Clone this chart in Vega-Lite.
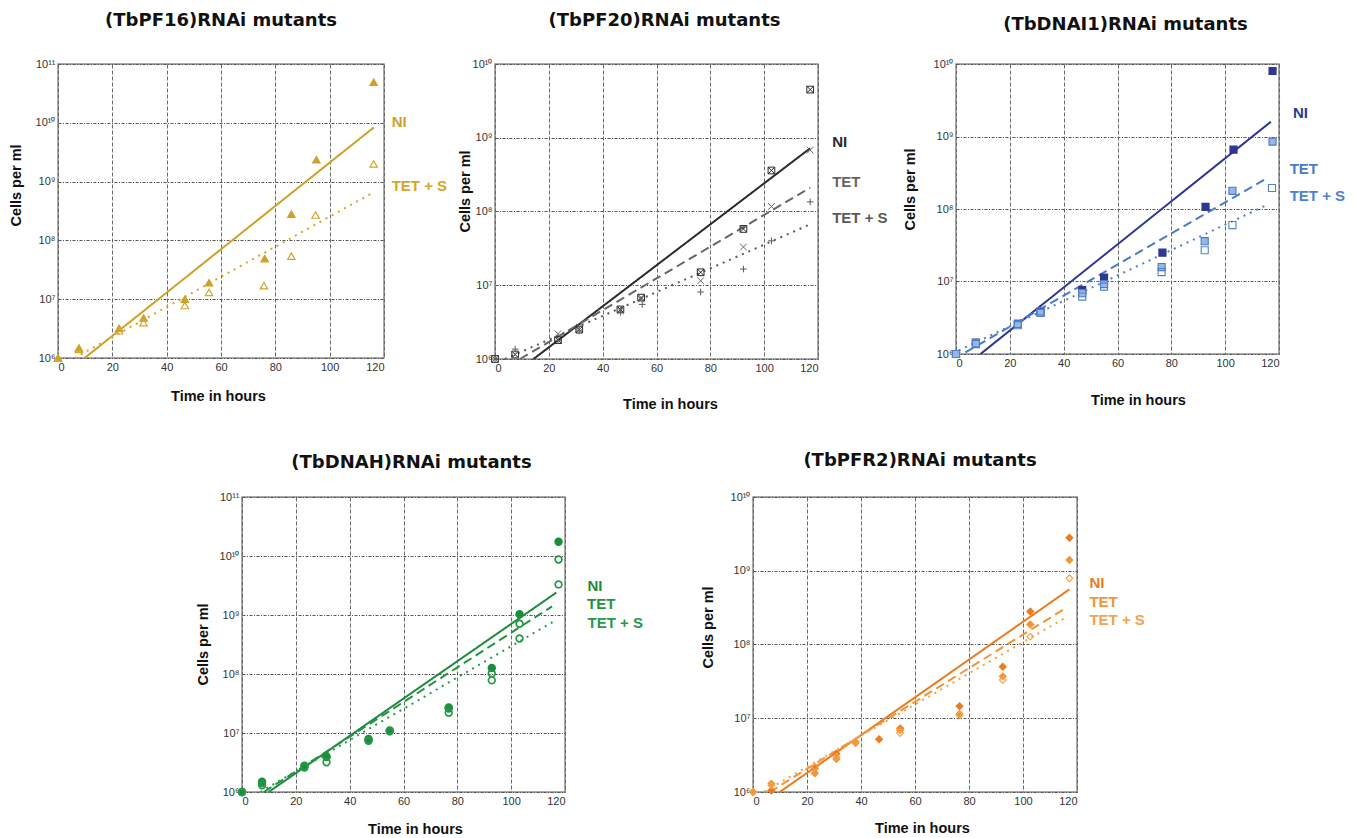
{
  "$schema": "https://vega.github.io/schema/vega-lite/v6.json",
  "background": "white",
  "padding": {"left": 7, "top": 10, "right": 0, "bottom": 0},
  "spacing": 39,
  "resolve": {"scale": {"x": "independent", "y": "independent", "color": "independent", "fill": "independent", "shape": "independent", "strokeDash": "independent"}},
  "config": {
    "view": {"stroke": "#8c8c8c", "strokeWidth": 1.5},
    "axis": {"grid": true, "gridColor": "#6a6a6a", "gridDash": [4, 2], "gridWidth": 1, "domain": false, "ticks": false, "labelFont": "Liberation Sans", "labelFontSize": 11, "labelColor": "#333", "labelPadding": 3, "titleFont": "Liberation Sans", "titleFontSize": 14.5, "titleFontWeight": "bold", "titleColor": "#111"},
    "axisY": {"gridDash": [3, 1.5, 1, 1.5], "gridColor": "#555"},
    "title": {"font": "DejaVu Sans", "fontSize": 18, "fontWeight": "bold", "color": "#111", "anchor": "middle", "frame": "group", "baseline": "alphabetic"},
    "text": {"font": "Liberation Sans", "fontSize": 15, "fontWeight": "bold"}
  },
  "datasets": {
    "pts": [
      {"p": "PF16", "s": "NI", "t": 0, "c": 1e6}, {"p": "PF16", "s": "NI", "t": 7.7, "c": 1.48e6}, {"p": "PF16", "s": "NI", "t": 22.5, "c": 3.2e6}, {"p": "PF16", "s": "NI", "t": 31.5, "c": 4.8e6}, {"p": "PF16", "s": "NI", "t": 46.7, "c": 1.0e7}, {"p": "PF16", "s": "NI", "t": 55.6, "c": 1.9e7}, {"p": "PF16", "s": "NI", "t": 76.1, "c": 4.9e7}, {"p": "PF16", "s": "NI", "t": 85.9, "c": 2.8e8}, {"p": "PF16", "s": "NI", "t": 95.1, "c": 2.35e9}, {"p": "PF16", "s": "NI", "t": 116.2, "c": 4.9e10},
      {"p": "PF16", "s": "TET + S", "t": 0, "c": 1e6}, {"p": "PF16", "s": "TET + S", "t": 7.7, "c": 1.4e6}, {"p": "PF16", "s": "TET + S", "t": 22.5, "c": 2.9e6}, {"p": "PF16", "s": "TET + S", "t": 31.5, "c": 4.0e6}, {"p": "PF16", "s": "TET + S", "t": 46.7, "c": 7.8e6}, {"p": "PF16", "s": "TET + S", "t": 55.6, "c": 1.3e7}, {"p": "PF16", "s": "TET + S", "t": 75.8, "c": 1.7e7}, {"p": "PF16", "s": "TET + S", "t": 85.9, "c": 5.4e7}, {"p": "PF16", "s": "TET + S", "t": 94.8, "c": 2.7e8}, {"p": "PF16", "s": "TET + S", "t": 116.2, "c": 2.0e9},

      {"p": "PF20", "s": "NI", "t": 0, "c": 1e6}, {"p": "PF20", "s": "NI", "t": 7.5, "c": 1.15e6}, {"p": "PF20", "s": "NI", "t": 23.4, "c": 1.8e6}, {"p": "PF20", "s": "NI", "t": 31.3, "c": 2.5e6}, {"p": "PF20", "s": "NI", "t": 46.6, "c": 4.7e6}, {"p": "PF20", "s": "NI", "t": 54.3, "c": 6.8e6}, {"p": "PF20", "s": "NI", "t": 76.4, "c": 1.5e7}, {"p": "PF20", "s": "NI", "t": 92.3, "c": 5.8e7}, {"p": "PF20", "s": "NI", "t": 102.7, "c": 3.6e8}, {"p": "PF20", "s": "NI", "t": 117.1, "c": 4.5e9},
      {"p": "PF20", "s": "TET", "t": 0, "c": 1e6}, {"p": "PF20", "s": "TET", "t": 7.5, "c": 1.15e6}, {"p": "PF20", "s": "TET", "t": 23.4, "c": 2.2e6}, {"p": "PF20", "s": "TET", "t": 31.3, "c": 2.7e6}, {"p": "PF20", "s": "TET", "t": 46.6, "c": 4.5e6}, {"p": "PF20", "s": "TET", "t": 54.3, "c": 6.5e6}, {"p": "PF20", "s": "TET", "t": 76.4, "c": 1.15e7}, {"p": "PF20", "s": "TET", "t": 92.3, "c": 3.3e7}, {"p": "PF20", "s": "TET", "t": 102.7, "c": 1.17e8}, {"p": "PF20", "s": "TET", "t": 117.1, "c": 6.8e8},
      {"p": "PF20", "s": "TET + S", "t": 0, "c": 1e6}, {"p": "PF20", "s": "TET + S", "t": 7.5, "c": 1.36e6}, {"p": "PF20", "s": "TET + S", "t": 23.4, "c": 1.77e6}, {"p": "PF20", "s": "TET + S", "t": 31.3, "c": 2.4e6}, {"p": "PF20", "s": "TET + S", "t": 46.6, "c": 4.3e6}, {"p": "PF20", "s": "TET + S", "t": 54.7, "c": 5.5e6}, {"p": "PF20", "s": "TET + S", "t": 76.4, "c": 8.1e6}, {"p": "PF20", "s": "TET + S", "t": 92.3, "c": 1.66e7}, {"p": "PF20", "s": "TET + S", "t": 102.7, "c": 4.0e7}, {"p": "PF20", "s": "TET + S", "t": 117.1, "c": 1.35e8},

      {"p": "DNAI1", "s": "NI", "t": 0, "c": 1e6}, {"p": "DNAI1", "s": "NI", "t": 7.4, "c": 1.44e6}, {"p": "DNAI1", "s": "NI", "t": 23, "c": 2.6e6}, {"p": "DNAI1", "s": "NI", "t": 31.4, "c": 3.8e6}, {"p": "DNAI1", "s": "NI", "t": 46.9, "c": 7.6e6}, {"p": "DNAI1", "s": "NI", "t": 55, "c": 1.13e7}, {"p": "DNAI1", "s": "NI", "t": 76.7, "c": 2.5e7}, {"p": "DNAI1", "s": "NI", "t": 92.7, "c": 1.07e8}, {"p": "DNAI1", "s": "NI", "t": 103.1, "c": 6.6e8}, {"p": "DNAI1", "s": "NI", "t": 117.6, "c": 8e9},
      {"p": "DNAI1", "s": "TET", "t": 0, "c": 1e6}, {"p": "DNAI1", "s": "TET", "t": 7.4, "c": 1.37e6}, {"p": "DNAI1", "s": "TET", "t": 23, "c": 2.6e6}, {"p": "DNAI1", "s": "TET", "t": 31.4, "c": 3.7e6}, {"p": "DNAI1", "s": "TET", "t": 46.9, "c": 6.9e6}, {"p": "DNAI1", "s": "TET", "t": 55, "c": 9.2e6}, {"p": "DNAI1", "s": "TET", "t": 76.4, "c": 1.58e7}, {"p": "DNAI1", "s": "TET", "t": 92.4, "c": 3.6e7}, {"p": "DNAI1", "s": "TET", "t": 102.7, "c": 1.78e8}, {"p": "DNAI1", "s": "TET", "t": 117.6, "c": 8.5e8},
      {"p": "DNAI1", "s": "TET + S", "t": 0, "c": 1e6}, {"p": "DNAI1", "s": "TET + S", "t": 7.4, "c": 1.41e6}, {"p": "DNAI1", "s": "TET + S", "t": 23, "c": 2.5e6}, {"p": "DNAI1", "s": "TET + S", "t": 31.4, "c": 3.9e6}, {"p": "DNAI1", "s": "TET + S", "t": 46.9, "c": 6.2e6}, {"p": "DNAI1", "s": "TET + S", "t": 55, "c": 8.5e6}, {"p": "DNAI1", "s": "TET + S", "t": 76.4, "c": 1.35e7}, {"p": "DNAI1", "s": "TET + S", "t": 92.4, "c": 2.7e7}, {"p": "DNAI1", "s": "TET + S", "t": 102.7, "c": 6.0e7}, {"p": "DNAI1", "s": "TET + S", "t": 117.4, "c": 1.95e8},

      {"p": "DNAH", "s": "NI", "t": 0, "c": 1e6}, {"p": "DNAH", "s": "NI", "t": 7.45, "c": 1.5e6}, {"p": "DNAH", "s": "NI", "t": 23.2, "c": 2.7e6}, {"p": "DNAH", "s": "NI", "t": 31.4, "c": 4.0e6}, {"p": "DNAH", "s": "NI", "t": 47, "c": 7.9e6}, {"p": "DNAH", "s": "NI", "t": 54.9, "c": 1.1e7}, {"p": "DNAH", "s": "NI", "t": 76.8, "c": 2.7e7}, {"p": "DNAH", "s": "NI", "t": 92.8, "c": 1.26e8}, {"p": "DNAH", "s": "NI", "t": 103.1, "c": 1.03e9}, {"p": "DNAH", "s": "NI", "t": 117.6, "c": 1.74e10},
      {"p": "DNAH", "s": "TET", "t": 0, "c": 1e6}, {"p": "DNAH", "s": "TET", "t": 7.45, "c": 1.42e6}, {"p": "DNAH", "s": "TET", "t": 23.2, "c": 2.8e6}, {"p": "DNAH", "s": "TET", "t": 31.4, "c": 3.9e6}, {"p": "DNAH", "s": "TET", "t": 47, "c": 7.5e6}, {"p": "DNAH", "s": "TET", "t": 54.9, "c": 1.07e7}, {"p": "DNAH", "s": "TET", "t": 76.8, "c": 2.6e7}, {"p": "DNAH", "s": "TET", "t": 92.8, "c": 1.02e8}, {"p": "DNAH", "s": "TET", "t": 103.1, "c": 7.1e8}, {"p": "DNAH", "s": "TET", "t": 117.6, "c": 8.7e9},
      {"p": "DNAH", "s": "TET + S", "t": 0, "c": 1e6}, {"p": "DNAH", "s": "TET + S", "t": 7.45, "c": 1.3e6}, {"p": "DNAH", "s": "TET + S", "t": 23.2, "c": 2.6e6}, {"p": "DNAH", "s": "TET + S", "t": 31.4, "c": 3.2e6}, {"p": "DNAH", "s": "TET + S", "t": 47, "c": 7.4e6}, {"p": "DNAH", "s": "TET + S", "t": 54.9, "c": 1.08e7}, {"p": "DNAH", "s": "TET + S", "t": 76.8, "c": 2.2e7}, {"p": "DNAH", "s": "TET + S", "t": 92.8, "c": 7.8e7}, {"p": "DNAH", "s": "TET + S", "t": 103.1, "c": 4.0e8}, {"p": "DNAH", "s": "TET + S", "t": 117.6, "c": 3.3e9},

      {"p": "PFR2", "s": "NI", "t": 0, "c": 1e6}, {"p": "PFR2", "s": "NI", "t": 6.8, "c": 1.05e6}, {"p": "PFR2", "s": "NI", "t": 22.9, "c": 2.1e6}, {"p": "PFR2", "s": "NI", "t": 30.9, "c": 3.3e6}, {"p": "PFR2", "s": "NI", "t": 46.7, "c": 5.2e6}, {"p": "PFR2", "s": "NI", "t": 54.5, "c": 7.3e6}, {"p": "PFR2", "s": "NI", "t": 76.5, "c": 1.46e7}, {"p": "PFR2", "s": "NI", "t": 92.5, "c": 5.0e7}, {"p": "PFR2", "s": "NI", "t": 102.7, "c": 2.8e8}, {"p": "PFR2", "s": "NI", "t": 117.2, "c": 2.8e9},
      {"p": "PFR2", "s": "TET", "t": 0, "c": 1e6}, {"p": "PFR2", "s": "TET", "t": 6.8, "c": 1.3e6}, {"p": "PFR2", "s": "TET", "t": 22.9, "c": 1.8e6}, {"p": "PFR2", "s": "TET", "t": 30.9, "c": 2.8e6}, {"p": "PFR2", "s": "TET", "t": 38, "c": 4.6e6}, {"p": "PFR2", "s": "TET", "t": 54.5, "c": 6.9e6}, {"p": "PFR2", "s": "TET", "t": 76.5, "c": 1.14e7}, {"p": "PFR2", "s": "TET", "t": 92.5, "c": 3.7e7}, {"p": "PFR2", "s": "TET", "t": 102.7, "c": 1.87e8}, {"p": "PFR2", "s": "TET", "t": 117.2, "c": 1.4e9},
      {"p": "PFR2", "s": "TET + S", "t": 0, "c": 1e6}, {"p": "PFR2", "s": "TET + S", "t": 6.8, "c": 1.23e6}, {"p": "PFR2", "s": "TET + S", "t": 22.9, "c": 2.2e6}, {"p": "PFR2", "s": "TET + S", "t": 30.9, "c": 3.0e6}, {"p": "PFR2", "s": "TET + S", "t": 38, "c": 4.8e6}, {"p": "PFR2", "s": "TET + S", "t": 54.5, "c": 6.3e6}, {"p": "PFR2", "s": "TET + S", "t": 76.5, "c": 1.1e7}, {"p": "PFR2", "s": "TET + S", "t": 92.5, "c": 3.3e7}, {"p": "PFR2", "s": "TET + S", "t": 102.7, "c": 1.28e8}, {"p": "PFR2", "s": "TET + S", "t": 117.2, "c": 7.9e8}
    ],
    "fits": [
      {"p": "PF16", "s": "NI", "t": 9.8, "c": 1e6}, {"p": "PF16", "s": "NI", "t": 116.2, "c": 8.3e9},
      {"p": "PF16", "s": "TET + S", "t": 6.1, "c": 1e6}, {"p": "PF16", "s": "TET + S", "t": 116.2, "c": 6.6e8},
      {"p": "PF20", "s": "NI", "t": 14.3, "c": 1e6}, {"p": "PF20", "s": "NI", "t": 117.1, "c": 7.2e8},
      {"p": "PF20", "s": "TET", "t": 9.3, "c": 1e6}, {"p": "PF20", "s": "TET", "t": 117.1, "c": 2.1e8},
      {"p": "PF20", "s": "TET + S", "t": 3.7, "c": 1e6}, {"p": "PF20", "s": "TET + S", "t": 117.1, "c": 6.7e7},
      {"p": "DNAI1", "s": "NI", "t": 9.1, "c": 1e6}, {"p": "DNAI1", "s": "NI", "t": 117, "c": 1.6e9},
      {"p": "DNAI1", "s": "TET", "t": 3.5, "c": 1.05e6}, {"p": "DNAI1", "s": "TET", "t": 115.8, "c": 2.7e8},
      {"p": "DNAI1", "s": "TET + S", "t": 1, "c": 1.12e6}, {"p": "DNAI1", "s": "TET + S", "t": 115.8, "c": 1.15e8},
      {"p": "DNAH", "s": "NI", "t": 9.9, "c": 1e6}, {"p": "DNAH", "s": "NI", "t": 116.8, "c": 2.4e9},
      {"p": "DNAH", "s": "TET", "t": 8.1, "c": 1e6}, {"p": "DNAH", "s": "TET", "t": 115.2, "c": 1.4e9},
      {"p": "DNAH", "s": "TET + S", "t": 6.8, "c": 1e6}, {"p": "DNAH", "s": "TET + S", "t": 116.1, "c": 7.9e8},
      {"p": "PFR2", "s": "NI", "t": 9.9, "c": 1e6}, {"p": "PFR2", "s": "NI", "t": 117.2, "c": 5.6e8},
      {"p": "PFR2", "s": "TET", "t": 6.2, "c": 1e6}, {"p": "PFR2", "s": "TET", "t": 115.7, "c": 3.1e8},
      {"p": "PFR2", "s": "TET + S", "t": 4.3, "c": 1.02e6}, {"p": "PFR2", "s": "TET + S", "t": 115.7, "c": 2.3e8}
    ]
  },
  "vconcat": [
    {
      "spacing": 0,
      "bounds": "flush",
      "resolve": {"scale": {"x": "independent", "y": "independent", "color": "independent", "fill": "independent", "shape": "independent", "strokeDash": "independent"}},
      "hconcat": [
        {
          "width": 326, "height": 294,
          "title": {"text": "(TbPF16)RNAi mutants", "offset": 28.5},
          "encoding": {
            "x": {"field": "t", "type": "quantitative", "scale": {"domain": [0, 120], "nice": false}, "axis": {"values": [0, 20, 40, 60, 80, 100, 120], "title": "Time in hours", "titleX": 160, "titleY": 31}},
            "y": {"field": "c", "type": "quantitative", "scale": {"type": "log", "domain": [1e6, 1e11], "nice": false}, "axis": {"values": [1e6, 1e7, 1e8, 1e9, 1e10, 1e11], "labelExpr": "'10' + (round(log(datum.value)/LN10) >= 10 ? '¹' + substring('⁰¹²³⁴⁵⁶⁷⁸⁹', round(log(datum.value)/LN10) - 10, round(log(datum.value)/LN10) - 9) : substring('⁰¹²³⁴⁵⁶⁷⁸⁹', round(log(datum.value)/LN10), round(log(datum.value)/LN10) + 1))", "title": "Cells per ml", "titleX": -35, "titleY": 121}},
            "color": {"field": "s", "type": "nominal", "scale": {"domain": ["NI", "TET + S"], "range": ["#CFA128", "#D4A62A"]}, "legend": null}
          },
          "layer": [
            {"data": {"name": "fits"}, "transform": [{"filter": "datum.p == 'PF16'"}], "mark": {"type": "line", "strokeWidth": 2},
             "encoding": {"strokeDash": {"field": "s", "type": "nominal", "scale": {"domain": ["NI", "TET + S"], "range": [[1, 0], [2, 5]]}, "legend": null}}},
            {"data": {"name": "pts"}, "transform": [{"filter": "datum.p == 'PF16'"}], "mark": {"type": "point", "filled": false, "opacity": 1, "strokeWidth": 1.2, "size": 55},
             "encoding": {"shape": {"field": "s", "type": "nominal", "scale": {"domain": ["NI", "TET + S"], "range": ["triangle-up", "triangle-up"]}, "legend": null},
                          "fill": {"field": "s", "type": "nominal", "scale": {"domain": ["NI", "TET + S"], "range": ["#CFA128", "transparent"]}, "legend": null}}},
            {"data": {"name": "fits"}, "transform": [{"filter": "datum.p == 'PF16' && datum.t > 60"}], "mark": {"type": "text", "align": "left", "baseline": "middle", "dx": 18, "dy": -6},
             "encoding": {"text": {"field": "s"}}}
          ]
        },
        {"width": 111, "height": 1, "data": {"values": [{}]}, "mark": {"type": "text"}, "encoding": {"text": {"value": ""}}, "view": {"stroke": null}},
        {
          "width": 323, "height": 295,
          "title": {"text": "(TbPF20)RNAi mutants", "offset": 28, "dx": 8},
          "encoding": {
            "x": {"field": "t", "type": "quantitative", "scale": {"domain": [0, 120], "nice": false}, "axis": {"values": [0, 20, 40, 60, 80, 100, 120], "title": "Time in hours", "titleX": 175, "titleY": 38}},
            "y": {"field": "c", "type": "quantitative", "scale": {"type": "log", "domain": [1e6, 1e10], "nice": false}, "axis": {"values": [1e6, 1e7, 1e8, 1e9, 1e10], "labelExpr": "'10' + (round(log(datum.value)/LN10) >= 10 ? '¹' + substring('⁰¹²³⁴⁵⁶⁷⁸⁹', round(log(datum.value)/LN10) - 10, round(log(datum.value)/LN10) - 9) : substring('⁰¹²³⁴⁵⁶⁷⁸⁹', round(log(datum.value)/LN10), round(log(datum.value)/LN10) + 1))", "title": "Cells per ml", "titleX": -23, "titleY": 127}},
            "color": {"field": "s", "type": "nominal", "scale": {"domain": ["NI", "TET", "TET + S"], "range": ["#2a2a2a", "#666666", "#5a5a5a"]}, "legend": null}
          },
          "layer": [
            {"data": {"name": "fits"}, "transform": [{"filter": "datum.p == 'PF20'"}], "mark": {"type": "line", "strokeWidth": 2},
             "encoding": {"strokeDash": {"field": "s", "type": "nominal", "scale": {"domain": ["NI", "TET", "TET + S"], "range": [[1, 0], [9, 5], [2, 5]]}, "legend": null}}},
            {"data": {"name": "pts"}, "transform": [{"filter": "datum.p == 'PF20'"}], "mark": {"type": "point", "filled": false, "opacity": 1, "strokeWidth": 1, "size": 45},
             "encoding": {"shape": {"field": "s", "type": "nominal", "scale": {"domain": ["NI", "TET", "TET + S"], "range": ["M-1,-1H1V1H-1ZM-1,-1L1,1M1,-1L-1,1", "M-1,-1L1,1M1,-1L-1,1", "M-1,0H1M0,-1V1"]}, "legend": null},
                          "fill": {"field": "s", "type": "nominal", "scale": {"domain": ["NI", "TET", "TET + S"], "range": ["transparent", "transparent", "transparent"]}, "legend": null}}},
            {"data": {"name": "fits"}, "transform": [{"filter": "datum.p == 'PF20' && datum.t > 60"}], "mark": {"type": "text", "align": "left", "baseline": "middle", "dx": 22, "dy": -6},
             "encoding": {"text": {"field": "s"}}}
          ]
        },
        {"width": 138, "height": 1, "data": {"values": [{}]}, "mark": {"type": "text"}, "encoding": {"text": {"value": ""}}, "view": {"stroke": null}},
        {
          "width": 323, "height": 290,
          "title": {"text": "(TbDNAI1)RNAi mutants", "offset": 24.5, "dx": 8},
          "encoding": {
            "x": {"field": "t", "type": "quantitative", "scale": {"domain": [0, 120], "nice": false}, "axis": {"values": [0, 20, 40, 60, 80, 100, 120], "title": "Time in hours", "titleX": 182, "titleY": 39}},
            "y": {"field": "c", "type": "quantitative", "scale": {"type": "log", "domain": [1e6, 1e10], "nice": false}, "axis": {"values": [1e6, 1e7, 1e8, 1e9, 1e10], "labelExpr": "'10' + (round(log(datum.value)/LN10) >= 10 ? '¹' + substring('⁰¹²³⁴⁵⁶⁷⁸⁹', round(log(datum.value)/LN10) - 10, round(log(datum.value)/LN10) - 9) : substring('⁰¹²³⁴⁵⁶⁷⁸⁹', round(log(datum.value)/LN10), round(log(datum.value)/LN10) + 1))", "title": "Cells per ml", "titleX": -39, "titleY": 125}},
            "color": {"field": "s", "type": "nominal", "scale": {"domain": ["NI", "TET", "TET + S"], "range": ["#2E3892", "#4A7BC6", "#4F82CC"]}, "legend": null}
          },
          "layer": [
            {"data": {"name": "fits"}, "transform": [{"filter": "datum.p == 'DNAI1'"}], "mark": {"type": "line", "strokeWidth": 2},
             "encoding": {"strokeDash": {"field": "s", "type": "nominal", "scale": {"domain": ["NI", "TET", "TET + S"], "range": [[1, 0], [9, 5], [2, 5]]}, "legend": null}}},
            {"data": {"name": "pts"}, "transform": [{"filter": "datum.p == 'DNAI1'"}], "mark": {"type": "point", "filled": false, "opacity": 1, "strokeWidth": 1.1, "size": 50},
             "encoding": {"shape": {"field": "s", "type": "nominal", "scale": {"domain": ["NI", "TET", "TET + S"], "range": ["square", "square", "square"]}, "legend": null},
                          "fill": {"field": "s", "type": "nominal", "scale": {"domain": ["NI", "TET", "TET + S"], "range": ["#2E3892", "#9BB6E4", "transparent"]}, "legend": null}}},
            {"data": {"name": "fits"}, "transform": [{"filter": "datum.p == 'DNAI1' && datum.t > 60"}], "mark": {"type": "text", "align": "left", "baseline": "middle", "dx": 22, "dy": -9},
             "encoding": {"text": {"field": "s"}}}
          ]
        }
      ]
    },
    {
      "spacing": 0,
      "bounds": "flush",
      "resolve": {"scale": {"x": "independent", "y": "independent", "color": "independent", "fill": "independent", "shape": "independent", "strokeDash": "independent"}},
      "hconcat": [
        {"width": 184, "height": 1, "data": {"values": [{}]}, "mark": {"type": "text"}, "encoding": {"text": {"value": ""}}, "view": {"stroke": null}},
        {
          "width": 323, "height": 295,
          "title": {"text": "(TbDNAH)RNAi mutants", "offset": 19, "dx": 8},
          "encoding": {
            "x": {"field": "t", "type": "quantitative", "scale": {"domain": [0, 120], "nice": false}, "axis": {"values": [0, 20, 40, 60, 80, 100, 120], "title": "Time in hours", "titleX": 173, "titleY": 30}},
            "y": {"field": "c", "type": "quantitative", "scale": {"type": "log", "domain": [1e6, 1e11], "nice": false}, "axis": {"values": [1e6, 1e7, 1e8, 1e9, 1e10, 1e11], "labelExpr": "'10' + (round(log(datum.value)/LN10) >= 10 ? '¹' + substring('⁰¹²³⁴⁵⁶⁷⁸⁹', round(log(datum.value)/LN10) - 10, round(log(datum.value)/LN10) - 9) : substring('⁰¹²³⁴⁵⁶⁷⁸⁹', round(log(datum.value)/LN10), round(log(datum.value)/LN10) + 1))", "title": "Cells per ml", "titleX": -32, "titleY": 147}},
            "color": {"field": "s", "type": "nominal", "scale": {"domain": ["NI", "TET", "TET + S"], "range": ["#1E8C3E", "#22933F", "#27994A"]}, "legend": null}
          },
          "layer": [
            {"data": {"name": "fits"}, "transform": [{"filter": "datum.p == 'DNAH'"}], "mark": {"type": "line", "strokeWidth": 2},
             "encoding": {"strokeDash": {"field": "s", "type": "nominal", "scale": {"domain": ["NI", "TET", "TET + S"], "range": [[1, 0], [9, 5], [2, 5]]}, "legend": null}}},
            {"data": {"name": "pts"}, "transform": [{"filter": "datum.p == 'DNAH'"}], "mark": {"type": "point", "filled": false, "opacity": 1, "strokeWidth": 1.7, "size": 45},
             "encoding": {"shape": {"field": "s", "type": "nominal", "scale": {"domain": ["NI", "TET", "TET + S"], "range": ["circle", "circle", "circle"]}, "legend": null},
                          "fill": {"field": "s", "type": "nominal", "scale": {"domain": ["NI", "TET", "TET + S"], "range": ["#1E8C3E", "transparent", "transparent"]}, "legend": null}}},
            {"data": {"name": "fits"}, "transform": [{"filter": "datum.p == 'DNAH' && datum.t > 60 && datum.s == 'NI'"}], "mark": {"type": "text", "align": "left", "baseline": "middle", "dx": 31, "dy": -7},
             "encoding": {"text": {"field": "s"}}},
            {"data": {"name": "fits"}, "transform": [{"filter": "datum.p == 'DNAH' && datum.t > 60 && datum.s == 'TET'"}], "mark": {"type": "text", "align": "left", "baseline": "middle", "dx": 35, "dy": -2},
             "encoding": {"text": {"field": "s"}}},
            {"data": {"name": "fits"}, "transform": [{"filter": "datum.p == 'DNAH' && datum.t > 60 && datum.s == 'TET + S'"}], "mark": {"type": "text", "align": "left", "baseline": "middle", "dx": 33, "dy": 2},
             "encoding": {"text": {"field": "s"}}}
          ]
        },
        {"width": 188, "height": 1, "data": {"values": [{}]}, "mark": {"type": "text"}, "encoding": {"text": {"value": ""}}, "view": {"stroke": null}},
        {
          "width": 324, "height": 295,
          "title": {"text": "(TbPFR2)RNAi mutants", "offset": 21, "dx": 5},
          "encoding": {
            "x": {"field": "t", "type": "quantitative", "scale": {"domain": [0, 120], "nice": false}, "axis": {"values": [0, 20, 40, 60, 80, 100, 120], "title": "Time in hours", "titleX": 169, "titleY": 29}},
            "y": {"field": "c", "type": "quantitative", "scale": {"type": "log", "domain": [1e6, 1e10], "nice": false}, "axis": {"values": [1e6, 1e7, 1e8, 1e9, 1e10], "labelExpr": "'10' + (round(log(datum.value)/LN10) >= 10 ? '¹' + substring('⁰¹²³⁴⁵⁶⁷⁸⁹', round(log(datum.value)/LN10) - 10, round(log(datum.value)/LN10) - 9) : substring('⁰¹²³⁴⁵⁶⁷⁸⁹', round(log(datum.value)/LN10), round(log(datum.value)/LN10) + 1))", "title": "Cells per ml", "titleX": -38, "titleY": 130}},
            "color": {"field": "s", "type": "nominal", "scale": {"domain": ["NI", "TET", "TET + S"], "range": ["#EC7B1F", "#F19538", "#F4A24C"]}, "legend": null}
          },
          "layer": [
            {"data": {"name": "fits"}, "transform": [{"filter": "datum.p == 'PFR2'"}], "mark": {"type": "line", "strokeWidth": 2},
             "encoding": {"strokeDash": {"field": "s", "type": "nominal", "scale": {"domain": ["NI", "TET", "TET + S"], "range": [[1, 0], [9, 5], [2, 5]]}, "legend": null}}},
            {"data": {"name": "pts"}, "transform": [{"filter": "datum.p == 'PFR2'"}], "mark": {"type": "point", "filled": false, "opacity": 1, "strokeWidth": 1.2, "size": 45},
             "encoding": {"shape": {"field": "s", "type": "nominal", "scale": {"domain": ["NI", "TET", "TET + S"], "range": ["diamond", "diamond", "diamond"]}, "legend": null},
                          "fill": {"field": "s", "type": "nominal", "scale": {"domain": ["NI", "TET", "TET + S"], "range": ["#EC7B1F", "#F19538", "transparent"]}, "legend": null}}},
            {"data": {"name": "fits"}, "transform": [{"filter": "datum.p == 'PFR2' && datum.t > 60 && datum.s == 'NI'"}], "mark": {"type": "text", "align": "left", "baseline": "middle", "dx": 20, "dy": -6},
             "encoding": {"text": {"field": "s"}}},
            {"data": {"name": "fits"}, "transform": [{"filter": "datum.p == 'PFR2' && datum.t > 60 && datum.s == 'TET'"}], "mark": {"type": "text", "align": "left", "baseline": "middle", "dx": 24, "dy": -6},
             "encoding": {"text": {"field": "s"}}},
            {"data": {"name": "fits"}, "transform": [{"filter": "datum.p == 'PFR2' && datum.t > 60 && datum.s == 'TET + S'"}], "mark": {"type": "text", "align": "left", "baseline": "middle", "dx": 24, "dy": 2},
             "encoding": {"text": {"field": "s"}}}
          ]
        }
      ]
    }
  ]
}
